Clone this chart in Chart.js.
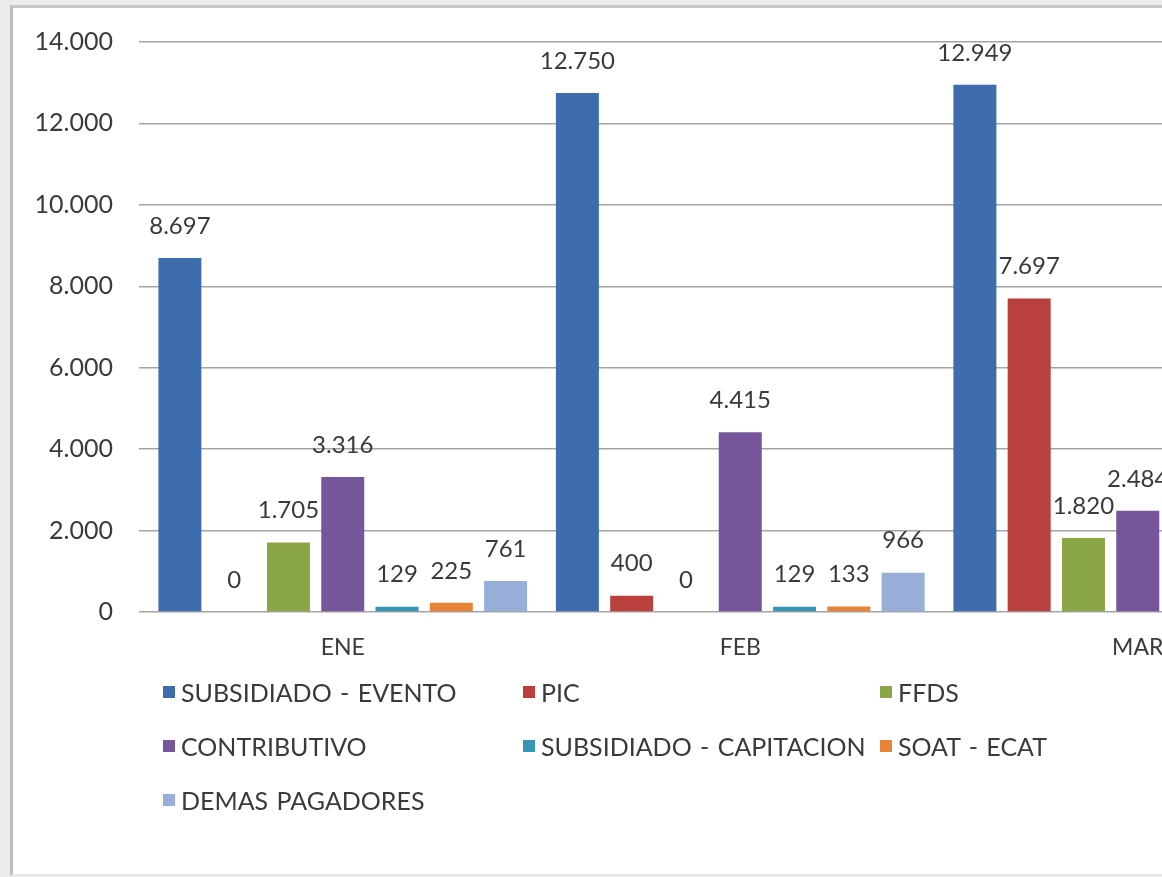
<!DOCTYPE html>
<html>
<head>
<meta charset="utf-8">
<script src="https://cdn.jsdelivr.net/npm/chart.js@4.4.1/dist/chart.umd.min.js"></script>
<style>
  html, body { margin:0; padding:0; width:1162px; height:877px; overflow:hidden; background:#ececec; }
  #panel { position:absolute; left:10px; top:5px; width:1300px; height:866px; background:#fff;
           border-left:3px solid #bdbdbd; border-top:3px solid #c8c8c8; border-bottom:2px solid #e4e4e4; }
  #wrap { position:absolute; left:0; top:0; width:1340px; height:680px; }
  #legend { position:absolute; left:163px; top:665px; width:1100px; font-family:Lato, sans-serif;
            font-size:25px; color:#3a3a3a; display:grid; grid-template-columns:360px 357px 300px; row-gap:0; }
  .item { height:54px; display:flex; align-items:center; white-space:nowrap; word-spacing:2px; }
  .sw { width:12px; height:12px; margin-right:6px; flex:none; }
</style>
</head>
<body>
<div id="panel"></div>
<div id="wrap"><canvas id="c" width="1340" height="680"></canvas></div>
<div id="legend"></div>
<script>
const categories = ['ENE', 'FEB', 'MAR'];
const seriesNames = ['SUBSIDIADO - EVENTO', 'PIC', 'FFDS', 'CONTRIBUTIVO',
                     'SUBSIDIADO - CAPITACION', 'SOAT - ECAT', 'DEMAS PAGADORES'];
const subsidiadoEvento = [8697, 12750, 12949];
const pic = [0, 400, 7697];
const ffds = [1705, 0, 1820];
const contributivo = [3316, 4415, 2484];
const subsidiadoCapitacion = [129, 129, null];
const soatEcat = [225, 133, null];
const demasPagadores = [761, 966, null];
const yTicks = [0, 2000, 4000, 6000, 8000, 10000, 12000, 14000];

const seriesValues = [subsidiadoEvento, pic, ffds, contributivo, subsidiadoCapitacion, soatEcat, demasPagadores];
const colors = ['#3d6dad', '#b9403c', '#8aa646', '#75569b', '#3796b4', '#e8833a', '#97aed8'];

function fmt(v) { return String(v).replace(/\B(?=(\d{3})+(?!\d))/g, '.'); }

const labelPlugin = {
  id: 'valueLabels',
  afterDatasetsDraw(chart) {
    const ctx = chart.ctx;
    ctx.save();
    ctx.font = '24px Lato, sans-serif';
    ctx.fillStyle = '#3a3a3a';
    ctx.textAlign = 'center';
    ctx.textBaseline = 'middle';
    chart.data.datasets.forEach((ds, i) => {
      const meta = chart.getDatasetMeta(i);
      meta.data.forEach((el, j) => {
        const v = ds.data[j];
        if (v === null || v === undefined) return;
        ctx.fillText(fmt(v), el.x, el.y - 32);
      });
    });
    ctx.restore();
  }
};

new Chart(document.getElementById('c'), {
  type: 'bar',
  data: {
    labels: categories,
    datasets: seriesNames.map((n, i) => ({
      label: n, data: seriesValues[i], backgroundColor: colors[i],
      categoryPercentage: 0.956, barPercentage: 0.792
    }))
  },
  options: {
    responsive: false,
    animation: false,
    devicePixelRatio: 1,
    layout: { padding: { top: 42, right: 3.5, left: 0, bottom: 0 } },
    plugins: { legend: { display: false }, tooltip: { enabled: false } },
    scales: {
      x: {
        grid: { display: false, drawTicks: false },
        border: { display: false },
        ticks: { color: '#3a3a3a', font: { family: 'Lato', size: 23 }, padding: 22 },
        afterFit(s) { s.height = 68; }
      },
      y: {
        min: 0, max: 14000,
        afterBuildTicks(s) { s.ticks = yTicks.map(v => ({ value: v })); },
        grid: { color: '#a4a4a4', lineWidth: 1.5, drawTicks: true, tickLength: 5 },
        border: { display: false },
        ticks: { color: '#3a3a3a', font: { family: 'Lato', size: 25 }, padding: 26,
                 callback: v => fmt(v) },
        afterFit(s) { s.width = 144; }
      }
    }
  },
  plugins: [labelPlugin]
});

const lg = document.getElementById('legend');
seriesNames.forEach((n, i) => {
  const d = document.createElement('div');
  d.className = 'item';
  const sw = document.createElement('span');
  sw.className = 'sw';
  sw.style.background = colors[i];
  const t = document.createElement('span');
  t.textContent = n;
  d.appendChild(sw); d.appendChild(t);
  lg.appendChild(d);
});
</script>
</body>
</html>
